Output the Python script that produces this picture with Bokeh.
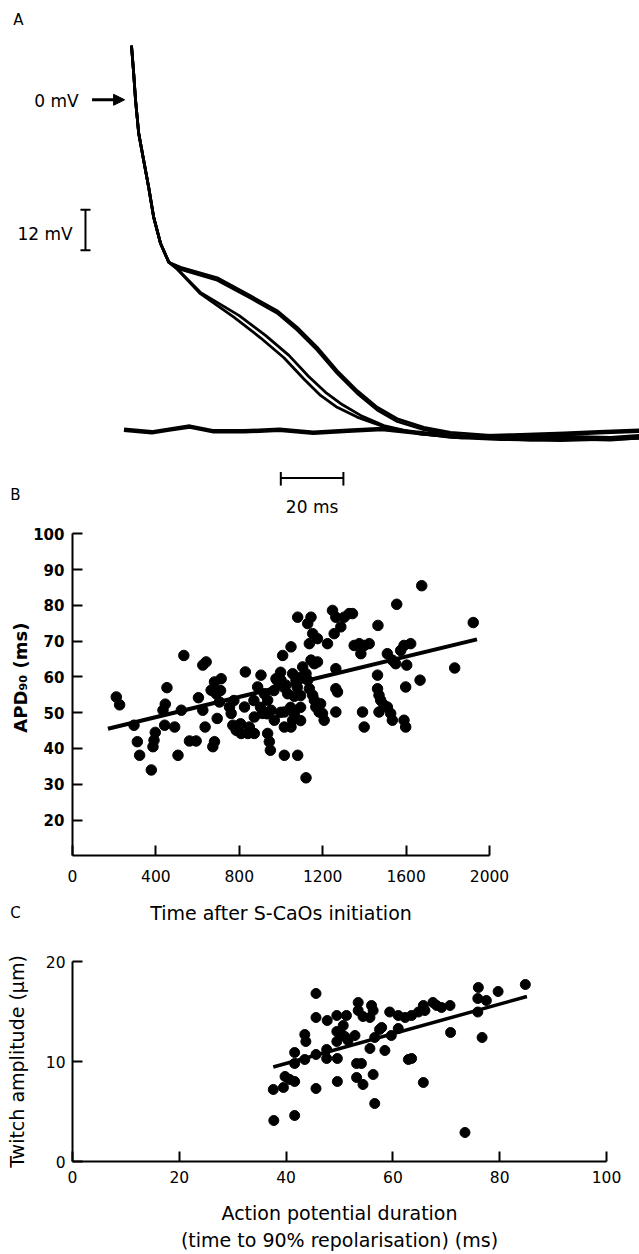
import math
from bokeh.plotting import figure
from bokeh.layouts import column
from bokeh.models import Range1d, FixedTicker, Label, Arrow, NormalHead
from bokeh.embed import file_html
from bokeh.resources import INLINE

FONT = "DejaVu Sans"

# ---------------- Panel A: action potential traces (time in ms, voltage in mV)
common_t = [0.0, 0.7, 1.3, 2.3, 3.9, 5.5, 7.1, 9.3, 11.9]
common_v = [16.0, 7.8, -0.2, -9.9, -17.9, -25.9, -34.7, -42.4, -47.9]

upper1_t = [15.7, 27.4, 38.0, 46.5, 52.9, 59.3, 65.7, 72.1, 78.5, 84.9, 93.4, 101.9, 114.7, 127.5, 140.3, 153.0, 162.3]
upper1_v = [-49.4, -52.5, -57.8, -62.2, -67.1, -73.0, -79.9, -85.8, -90.7, -94.1, -96.6, -98.1, -99.0, -99.6, -99.3, -99.6, -99.0]
upper2_t = [15.7, 27.4, 38.0, 46.5, 52.9, 59.3, 65.7, 72.1, 78.5, 84.9, 93.4, 101.9, 114.7, 127.5, 140.3, 153.0, 162.3]
upper2_v = [-50.0, -53.2, -58.5, -62.9, -67.9, -73.8, -80.7, -86.6, -91.5, -94.9, -97.3, -98.8, -99.8, -100.4, -100.1, -100.4, -99.8]
lower1_t = [14.6, 22.0, 32.7, 41.2, 48.7, 55.0, 60.4, 65.7, 72.1, 80.6, 91.3, 101.9, 117.9, 137.1, 162.3]
lower1_v = [-49.9, -57.2, -64.1, -70.2, -76.1, -82.3, -87.2, -90.7, -93.6, -96.4, -98.3, -99.6, -100.2, -100.5, -99.9]
lower2_t = [14.6, 22.0, 34.3, 42.8, 50.3, 56.6, 62.0, 67.3, 73.2, 80.6, 92.3, 105.1, 124.3, 143.5, 162.3]
lower2_v = [-49.9, -56.8, -63.6, -69.5, -75.4, -81.6, -86.3, -89.9, -93.1, -96.1, -98.6, -99.5, -100.1, -99.8, -99.6]
baseline_t = [-2.4, 6.5, 12.0, 18.6, 26.3, 36.2, 47.2, 58.1, 69.1, 80.1, 94.4, 105.4, 121.9, 138.3, 149.3, 162.2]
baseline_v = [-97.3, -98.1, -97.3, -96.4, -97.8, -97.8, -97.3, -98.2, -97.6, -97.1, -98.5, -99.5, -99.0, -98.5, -98.1, -97.6]

SCALE_MV = 12
SCALE_MS = 20
mv_bar_t = -14.7
mv_bar_top = -32.4
ms_bar_v = -111.6
ms_bar_start = 47.7

# ---------------- Panel B: APD90 vs time after S-CaOs initiation
b_time = [210, 226, 295, 311, 322, 378, 397, 391, 386, 445,
          434, 453, 442, 490, 506, 522, 534, 561, 593, 604,
          625, 641, 636, 625, 673, 681, 681, 713, 665, 689,
          705, 694, 753, 761, 769, 785, 809, 841, 872, 848,
          872, 829, 825, 904, 888, 920, 936, 912, 952, 968,
          936, 944, 949, 976, 1008, 1048, 1000, 1024, 1032, 1016,
          1016, 1048, 1016, 1080, 1080, 1120, 1056, 1072, 1064, 1064,
          1056, 1144, 1128, 1152, 1175, 1136, 1144, 1160, 1175, 1104,
          1120, 1128, 1136, 1152, 1160, 1167, 1183, 1199, 1207, 1223,
          1247, 1263, 1287, 1303, 1327, 1343, 1255, 1263, 1263, 1271,
          1263, 1351, 1375, 1399, 1423, 1383, 1391, 1399, 1463, 1463,
          1470, 1478, 1470, 1465, 1494, 1510, 1526, 1534, 1510, 1534,
          1550, 1555, 1574, 1590, 1598, 1603, 1590, 1598, 1622, 1667,
          1675, 1833, 1922,
          998, 1094, 1078, 982, 1094, 1094, 1046, 1094, 1014, 1190,
          966, 870, 934, 806, 774, 998, 710, 902]
b_apd = [54.4, 52.2, 46.5, 41.9, 38.1, 34.0, 44.5, 42.3, 40.5, 52.4,
         50.7, 57.0, 46.5, 46.0, 38.1, 50.7, 66.0, 42.1, 42.1, 54.2,
         63.3, 64.2, 46.0, 50.7, 40.5, 41.9, 58.6, 59.5, 56.3, 55.3,
         53.0, 48.4, 51.6, 49.8, 46.5, 45.1, 44.2, 44.2, 44.2, 46.0,
         48.8, 61.4, 51.6, 60.5, 57.2, 55.3, 53.5, 49.8, 50.7, 47.9,
         44.2, 41.9, 39.5, 59.5, 66.0, 68.4, 59.1, 57.7, 55.3, 50.2,
         46.0, 46.0, 38.1, 38.1, 76.7, 31.8, 60.9, 59.1, 54.6, 49.8,
         47.9, 76.7, 74.9, 72.1, 70.7, 69.3, 64.7, 63.7, 64.2, 62.8,
         60.9, 59.1, 56.7, 54.9, 53.5, 51.6, 50.2, 49.8, 47.9, 69.3,
         78.6, 76.7, 74.0, 76.7, 77.7, 77.7, 72.1, 62.3, 56.7, 55.8,
         50.2, 68.8, 69.3, 68.8, 69.3, 66.5, 50.2, 46.0, 60.5, 56.7,
         54.9, 53.5, 50.2, 74.4, 52.1, 51.6, 49.8, 47.9, 66.5, 64.7,
         63.7, 80.3, 67.4, 68.8, 57.2, 63.3, 47.9, 46.0, 69.3, 59.1,
         85.5, 62.5, 75.2,
         61.3, 59.9, 57.1, 59.0, 54.8, 51.5, 51.5, 47.8, 57.1, 52.5,
         56.2, 53.4, 49.7, 46.9, 53.4, 50.1, 56.2, 51.5]
b_fit_x = [170, 1940]
b_fit_y = [45.5, 70.5]
b_xticks = [0, 400, 800, 1200, 1600, 2000]
b_yticks = [20, 30, 40, 50, 60, 70, 80, 90, 100]
b_xbounds = (0, 2000)
b_ybounds = (10, 100)

# ---------------- Panel C: twitch amplitude vs APD90
c_apd = [45.6, 45.6, 47.7, 49.5, 49.5, 49.5, 49.6, 49.6, 43.5, 43.7, 41.6, 41.6,
         43.5, 45.6, 47.6, 47.6, 37.6, 39.5, 39.8, 41.6, 40.7, 45.6, 37.7, 41.6,
         51.3, 53.5, 53.5, 54.4, 56.0, 56.3, 55.7, 50.7, 50.1, 51.0,
         51.6, 52.9, 53.2, 54.1, 53.2, 54.4, 56.3, 56.6, 55.7, 56.6,
         57.5, 57.9, 58.5, 59.4, 61.0, 62.3, 63.5, 64.8, 65.7, 66.0,
         67.5, 68.2, 69.1, 70.7, 61.0, 59.7, 62.9, 63.5, 65.7, 70.8,
         73.5, 76.0, 75.9, 75.9, 77.5, 76.7, 79.7, 84.8]
c_twitch = [16.8, 14.4, 14.1, 14.6, 13.0, 12.0, 10.3, 8.0, 12.7, 12.0, 10.9, 9.8,
            10.2, 10.7, 10.3, 11.2, 7.2, 7.4, 8.5, 8.0, 8.2, 7.3, 4.1, 4.6,
            14.6, 15.9, 15.1, 14.5, 15.6, 15.1, 14.4, 13.6, 13.0, 12.5,
            12.1, 12.6, 9.8, 9.8, 8.4, 7.7, 8.7, 5.8, 11.3, 12.4,
            13.2, 13.4, 11.1, 14.95, 14.6, 14.4, 14.6, 14.95, 15.6, 15.1,
            15.9, 15.6, 15.4, 15.6, 13.3, 12.6, 10.2, 10.3, 7.9, 12.9,
            2.9, 17.4, 16.3, 14.95, 16.1, 12.4, 17.0, 17.7]
c_fit_x = [37.6, 85.1]
c_fit_y = [9.45, 16.5]
c_xticks = [0, 20, 40, 60, 80, 100]
c_yticks = [0, 10, 20]

W = 639

# ================= Panel A
pA = figure(width=W, height=520, x_range=Range1d(-41.85, 162.3), y_range=Range1d(-124.1, 29.29),
            output_backend="svg", toolbar_location=None, min_border=0,
            x_axis_type=None, y_axis_type=None, frame_align=False)
pA.outline_line_color = None
pA.grid.visible = False

pA.line(baseline_t, baseline_v, line_width=4.5, color="black", line_join="round")
for tt, vv in [(upper1_t, upper1_v), (upper2_t, upper2_v), (lower1_t, lower1_v), (lower2_t, lower2_v)]:
    pA.line(common_t + tt, common_v + vv, line_width=2.8, color="black", line_join="round")

# 12 mV scale bar
pA.segment(x0=[mv_bar_t, mv_bar_t - 1.6, mv_bar_t - 1.6], y0=[mv_bar_top, mv_bar_top, mv_bar_top - SCALE_MV],
           x1=[mv_bar_t, mv_bar_t + 1.6, mv_bar_t + 1.6], y1=[mv_bar_top - SCALE_MV, mv_bar_top, mv_bar_top - SCALE_MV],
           line_width=2, color="black")
# 20 ms scale bar
pA.segment(x0=[ms_bar_start, ms_bar_start, ms_bar_start + SCALE_MS],
           y0=[ms_bar_v, ms_bar_v + 1.8, ms_bar_v + 1.8],
           x1=[ms_bar_start + SCALE_MS, ms_bar_start, ms_bar_start + SCALE_MS],
           y1=[ms_bar_v, ms_bar_v - 2.2, ms_bar_v - 2.2],
           line_width=2, color="black")

pA.add_layout(Arrow(end=NormalHead(size=11, fill_color="black", line_color="black", line_width=1),
                    x_start=-12.6, y_start=0, x_end=-2.2, y_end=0, line_width=3, line_color="black"))

def lab(p, x, y, text, size, align="center", angle=0.0, style="normal"):
    p.add_layout(Label(x=x, y=y, text=text, text_font=FONT, text_font_size=size, text_align=align,
                       text_baseline="middle", text_color="black", angle=angle, text_font_style=style))

lab(pA, -16.9, -0.5, "0 mV", "17px", "right")
lab(pA, -18.8, -39.5, "12 mV", "17px", "right")
lab(pA, ms_bar_start + SCALE_MS / 2, -120.2, "20 ms", "17px")
lab(pA, -36.1, 23.4, "A", "15px")
lab(pA, -37.1, -116.7, "B", "15px")

def style(p):
    p.outline_line_color = None
    p.grid.visible = False
    for ax in p.axis:
        ax.axis_line_width = 2
        ax.axis_line_color = "black"
        ax.major_tick_line_width = 2
        ax.major_tick_line_color = "black"
        ax.major_tick_in = 10
        ax.major_tick_out = 0
        ax.minor_tick_line_color = None
        ax.major_label_text_font = FONT
        ax.major_label_text_font_size = "15.5px"
        ax.major_label_text_color = "black"
        ax.axis_label_text_font = FONT
        ax.axis_label_text_font_size = "19px"
        ax.axis_label_text_font_style = "normal"
        ax.axis_label_text_color = "black"

# ================= Panel B (frame spans the whole canvas; axes sit at fixed data locations)
pB = figure(width=W, height=430, x_range=Range1d(-345.3, 2719.4), y_range=Range1d(-16.46, 103.72),
            output_backend="svg", toolbar_location=None, frame_align=False, min_border=0)
style(pB)
pB.xaxis.ticker = FixedTicker(ticks=b_xticks)
pB.yaxis.ticker = FixedTicker(ticks=b_yticks)
pB.xaxis.fixed_location = b_ybounds[0]
pB.yaxis.fixed_location = b_xbounds[0]
pB.xaxis.bounds = b_xbounds
pB.yaxis.bounds = b_ybounds
pB.xaxis.major_label_standoff = 14
pB.yaxis.major_label_standoff = 8
pB.yaxis.major_label_text_font_style = "bold"
pB.yaxis.major_label_text_font_size = "15px"
pB.scatter(b_time, b_apd, size=10.5, color="black")
pB.line(b_fit_x, b_fit_y, line_width=4, color="black")
lab(pB, -249.4, 59.8, "APD\u2089\u2080 (ms)", "18px", angle=math.pi / 2, style="bold")
lab(pB, 1000, -6.1, "Time after S-CaOs initiation", "19px")
lab(pB, -273.4, -6.1, "C", "15px")

# ================= Panel C
pC = figure(width=W, height=304, x_range=Range1d(0, 100), y_range=Range1d(0, 20),
            output_backend="svg", toolbar_location=None, frame_align=False,
            min_border_left=72, min_border_right=33, min_border_top=11, min_border_bottom=91)
style(pC)
pC.xaxis.ticker = FixedTicker(ticks=c_xticks)
pC.yaxis.ticker = FixedTicker(ticks=c_yticks)
pC.xaxis.axis_label = "Action potential duration\n(time to 90% repolarisation) (ms)"
pC.xaxis.axis_label_text_line_height = 1.27
pC.yaxis.axis_label = "Twitch amplitude (\u03bcm)"
pC.xaxis.major_label_standoff = 9
pC.xaxis.axis_label_standoff = 16
pC.yaxis.major_label_standoff = 7
pC.yaxis.axis_label_standoff = 15
pC.scatter(c_apd, c_twitch, size=10, color="black")
pC.line(c_fit_x, c_fit_y, line_width=3.5, color="black")

layout = column(pA, pB, pC)
open("out.html", "w").write(file_html(layout, INLINE))
